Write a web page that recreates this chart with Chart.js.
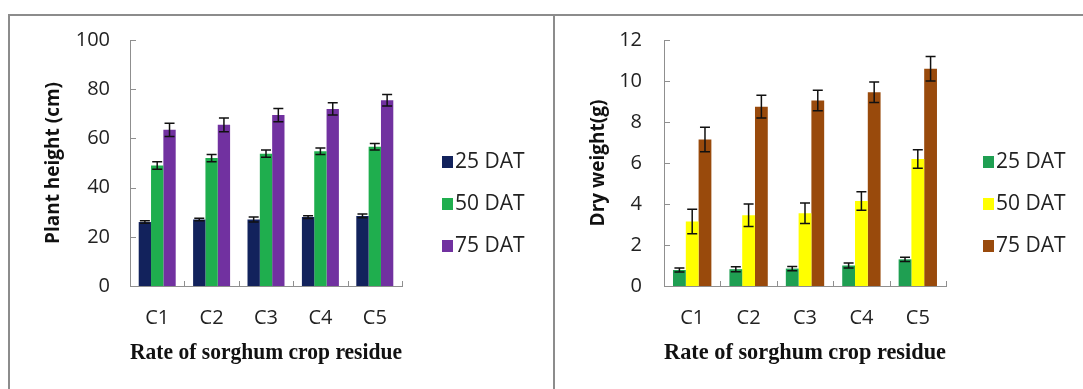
<!DOCTYPE html>
<html>
<head>
<meta charset="utf-8">
<script src="https://cdn.jsdelivr.net/npm/chart.js"></script>
<style>
  html, body { margin: 0; padding: 0; background: #fff; }
  body { width: 1083px; height: 389px; position: relative; overflow: hidden; }
  .frame { position: absolute; background: #8c8c8c; }
  .panel { position: absolute; top: 15px; height: 374px; }
</style>
</head>
<body>
<div class="frame" style="left:8px;top:14px;width:1075px;height:1.5px"></div>
<div class="frame" style="left:8px;top:14px;width:1.5px;height:375px"></div>
<div class="frame" style="left:553px;top:14px;width:1.5px;height:375px"></div>

<div class="panel" style="left:10px;width:543px"><canvas id="heightChart"></canvas></div>
<div class="panel" style="left:555px;width:528px"><canvas id="dryChart"></canvas></div>

<script>
// categories and series
const categories = ['C1', 'C2', 'C3', 'C4', 'C5'];
const seriesNames = ['25 DAT', '50 DAT', '75 DAT'];

// plant height (cm)
const height25 = [26, 27, 27, 28, 28.5];
const height50 = [49, 52, 53.8, 54.8, 56.6];
const height75 = [63.5, 65.5, 69.5, 72, 75.5];
const heightErr25 = [0.5, 0.5, 1.0, 0.6, 0.8];
const heightErr50 = [1.5, 1.5, 1.5, 1.3, 1.3];
const heightErr75 = [2.7, 2.8, 2.7, 2.5, 2.3];

// dry weight (g)
const dry25 = [0.78, 0.82, 0.85, 1.0, 1.3];
const dry50 = [3.15, 3.45, 3.55, 4.15, 6.2];
const dry75 = [7.15, 8.75, 9.05, 9.45, 10.6];
const dryErr25 = [0.1, 0.12, 0.1, 0.12, 0.1];
const dryErr50 = [0.6, 0.55, 0.5, 0.45, 0.45];
const dryErr75 = [0.6, 0.55, 0.5, 0.5, 0.6];

const tickFont = { family: 'Open Sans', size: 20, lineHeight: 1.2 };
const textColor = '#222';
const axisColor = '#8f8f8f';

// error bars, inward tick marks and side legend
const extras = {
  id: 'extras',
  afterDatasetsDraw(chart, args, opts) {
    const ctx = chart.ctx;
    const x = chart.scales.x, y = chart.scales.y;
    const area = chart.chartArea;
    ctx.save();
    // error bars
    ctx.strokeStyle = '#111';
    ctx.lineWidth = 1.5;
    chart.data.datasets.forEach((ds, i) => {
      const meta = chart.getDatasetMeta(i);
      meta.data.forEach((bar, j) => {
        const e = ds.errors[j];
        const v = ds.data[j];
        const top = y.getPixelForValue(v + e);
        const bot = y.getPixelForValue(v - e);
        const cx = bar.x, hw = 5;
        ctx.beginPath();
        ctx.moveTo(cx, top); ctx.lineTo(cx, bot);
        ctx.moveTo(cx - hw, top); ctx.lineTo(cx + hw, top);
        ctx.moveTo(cx - hw, bot); ctx.lineTo(cx + hw, bot);
        ctx.stroke();
      });
    });
    // inward ticks
    ctx.strokeStyle = axisColor;
    ctx.lineWidth = 1;
    ctx.beginPath();
    y.ticks.forEach((t, i) => {
      const py = Math.round(y.getPixelForTick(i)) + 0.5;
      ctx.moveTo(area.left, py); ctx.lineTo(area.left + 6, py);
    });
    for (let i = 0; i <= categories.length; i++) {
      const px = Math.round(x.getPixelForValue(i - 0.5)) + 0.5;
      ctx.moveTo(px, area.bottom); ctx.lineTo(px, area.bottom - 5);
    }
    ctx.stroke();
    // legend
    ctx.font = '21px "Open Sans"';
    ctx.textBaseline = 'middle';
    ctx.textAlign = 'left';
    chart.data.datasets.forEach((ds, i) => {
      const ly = area.top + opts.legendTop + i * 42;
      const lx = area.right + opts.legendGap;
      ctx.fillStyle = ds.backgroundColor;
      ctx.fillRect(lx, ly - 6, 11, 12);
      ctx.fillStyle = textColor;
      ctx.fillText(ds.label, lx + 13, ly);
    });
    ctx.restore();
  }
};

function makeChart(id, data, errs, colors, yMax, yStep, yTitle, yWidth, tickPad, rightPad, legendGap) {
  return new Chart(document.getElementById(id), {
    type: 'bar',
    data: {
      labels: categories,
      datasets: seriesNames.map((name, i) => ({
        label: name,
        data: data[i],
        errors: errs[i],
        backgroundColor: colors[i],
        borderWidth: 0,
        categoryPercentage: 0.68,
        barPercentage: 1.0
      }))
    },
    options: {
      responsive: true,
      maintainAspectRatio: false,
      animation: false,
      layout: { padding: { top: 25, right: rightPad, bottom: 0, left: 0 } },
      plugins: {
        legend: { display: false },
        tooltip: { enabled: false },
        extras: { legendTop: 122, legendGap: legendGap }
      },
      scales: {
        x: {
          grid: { display: false, drawTicks: false },
          border: { display: true, color: axisColor, width: 1 },
          ticks: { font: tickFont, color: textColor, padding: 20, maxRotation: 0 },
          title: {
            display: true,
            text: 'Rate of sorghum crop residue',
            font: { family: 'Liberation Serif', size: 23, weight: 'bold', lineHeight: 1.2 },
            color: '#111',
            padding: { top: 0, bottom: 22 }
          },
          afterFit(scale) {
            scale.height = 103;
            scale.paddingLeft = 0; scale.paddingRight = 0;
          }
        },
        y: {
          min: 0,
          max: yMax,
          grid: { display: false, drawTicks: false },
          border: { display: true, color: axisColor, width: 1 },
          ticks: { stepSize: yStep, font: tickFont, color: textColor, padding: tickPad },
          title: {
            display: true,
            text: yTitle,
            font: { family: 'Open Sans', size: 19, weight: 'bold', lineHeight: 1.2 },
            color: '#111',
            padding: { top: 32, bottom: 0 }
          },
          afterFit(scale) {
            scale.width = yWidth;
            scale.paddingTop = 0; scale.paddingBottom = 0;
          }
        }
      }
    },
    plugins: [extras]
  });
}

makeChart('heightChart',
  [height25, height50, height75],
  [heightErr25, heightErr50, heightErr75],
  ['#12225c', '#1fae4e', '#7131a0'],
  100, 20, 'Plant height (cm)', 120, 20, 151, 40);

makeChart('dryChart',
  [dry25, dry50, dry75],
  [dryErr25, dryErr50, dryErr75],
  ['#1f9f52', '#ffff00', '#994a0c'],
  12, 2, 'Dry weight(g)', 109, 22, 137, 37);
</script>
</body>
</html>
